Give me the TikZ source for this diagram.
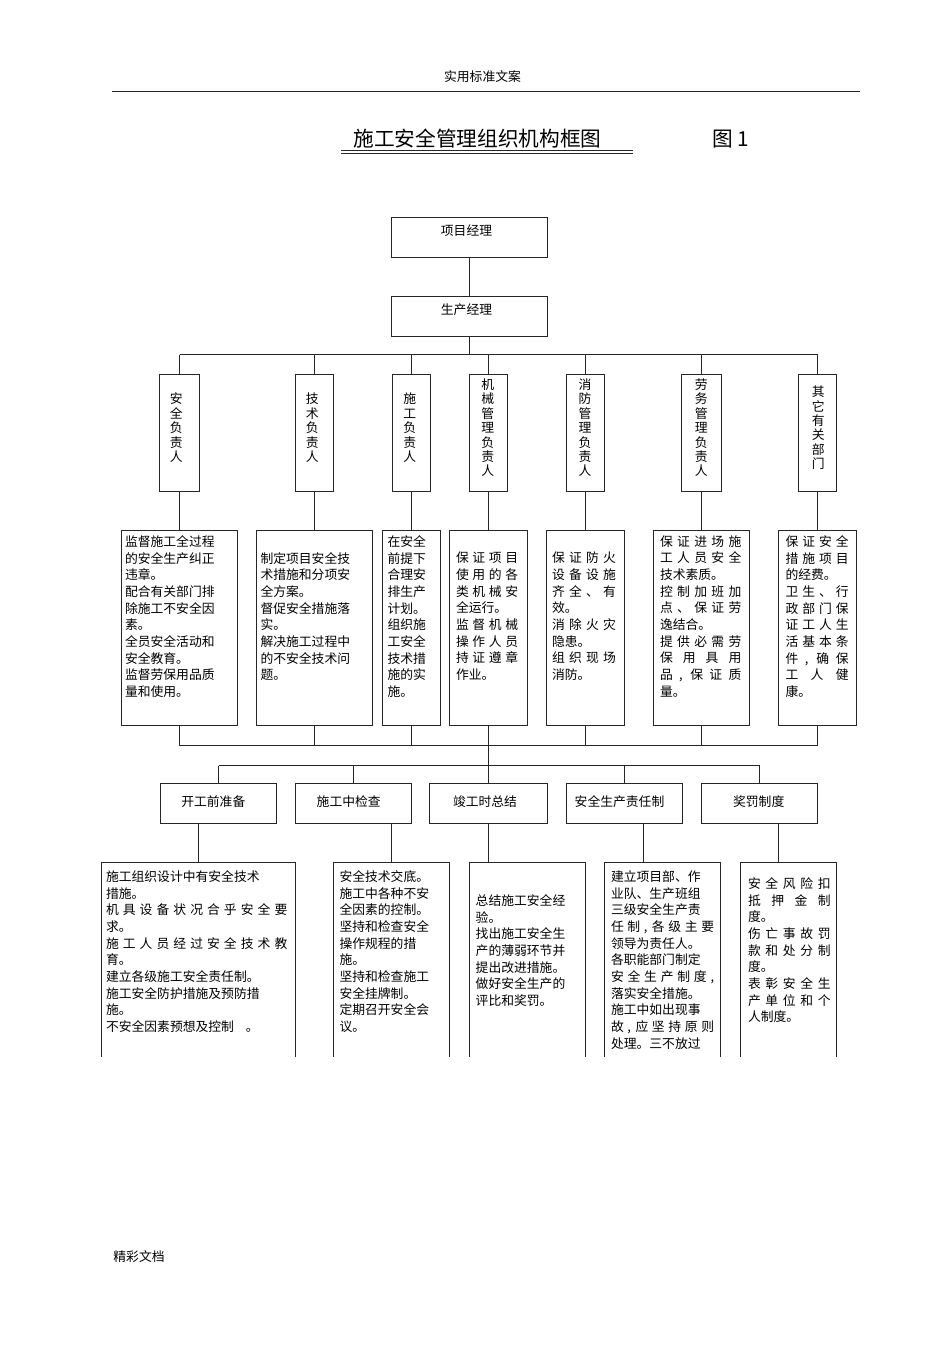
\documentclass[tikz,border=0pt]{standalone}
\usepackage{xcolor}
\usepackage{amsmath}
\usepackage{fontspec}
\usepackage{tikz}
\newfontfamily\cjk{Noto Sans CJK SC}
% one line spread over the whole width of its block
\newcommand{\spreadrow}[1]{\makebox[\linewidth][s]{\spaceskip=0.1pt plus 1fil #1}\\}

\begin{document}
\begin{tikzpicture}[x=0.75pt,y=-0.75pt,line width=0.75pt,color=black!85,
    main node/.style={rectangle,draw,inner sep=0pt,outer sep=0pt},
    wide node/.style={main node,minimum width=87pt,minimum height=30pt},
    role node/.style={main node,minimum width=28.5pt,minimum height=87.75pt},
    duty node/.style={main node,minimum height=146.25pt},
    rule node/.style={main node,minimum height=172.5pt},
    caption/.style={inner sep=0pt,text=black,font=\cjk\fontsize{9.6}{12.5}\selectfont},
    stack/.style={inner sep=0pt,align=center,text=black,font=\cjk\fontsize{9.6}{10.8}\selectfont},
    block/.style={inner sep=0pt,anchor=north west,align=left,text=black,font=\cjk\fontsize{9.6}{12.5}\selectfont}]
    \useasboundingbox (0,0) rectangle (950,1345);

    \node[caption] (header) at (482.5,76.5) {实用标准文案};
    \coordinate (ruleleft) at (112,91.5);
    \coordinate (ruleright) at (860,91.5);
    \draw (ruleleft) -- (ruleright);
    \node[caption,font=\cjk\fontsize{15.5}{18}\selectfont] (title) at (477.5,139) {施工安全管理组织机构框图};
    \node[caption,font=\cjk\fontsize{15.5}{18}\selectfont] (figno) at (730.5,139) {图\ 1};
    \coordinate (ulleft) at (341,150.5);
    \coordinate (ulright) at (632.7,150.5);
    \draw[line width=0.5pt] (ulleft) -- (ulright);
    \draw[line width=1pt] ([yshift=-2.25pt]ulleft) -- ([yshift=-2.25pt]ulright);
    \node[caption] (footer) at (139,1257) {精彩文档};

    % top of the chart
    \node[main node,minimum width=117pt,minimum height=30pt] (pm) at (469.5,237.5) {};
    \node[main node,minimum width=117pt,minimum height=30pt] (prod) at (469.5,316.5) {};
    \node[caption] (pmtext) at (466.5,231) {项目经理};
    \node[caption] (prodtext) at (466.5,310) {生产经理};

    \node[role node,minimum width=30pt] (r1) at (179.5,433) {};
    \node[role node] (r2) at (314.5,433) {};
    \node[role node] (r3) at (411.5,433) {};
    \node[role node] (r4) at (488.5,433) {};
    \node[role node] (r5) at (585.5,433) {};
    \node[role node,minimum width=30pt] (r6) at (701.5,433) {};
    \node[role node] (r7) at (817.5,433) {};
    \node[stack] (r1text) at (176.3,427.8) {安\\全\\负\\责\\人};
    \node[stack] (r2text) at (312.3,427.8) {技\\术\\负\\责\\人};
    \node[stack] (r3text) at (409.7,427.8) {施\\工\\负\\责\\人};
    \node[stack] (r4text) at (487.7,427.8) {机\\械\\管\\理\\负\\责\\人};
    \node[stack] (r5text) at (585,427.8) {消\\防\\管\\理\\负\\责\\人};
    \node[stack] (r6text) at (701.3,427.8) {劳\\务\\管\\理\\负\\责\\人};
    \node[stack] (r7text) at (818.3,427.8) {其\\它\\有\\关\\部\\门};

    \node[duty node,minimum width=87pt] (b1) at (179.5,628) {};
    \node[duty node,minimum width=87pt] (b2) at (314.5,628) {};
    \node[duty node,minimum width=43.5pt] (b3) at (411.5,628) {};
    \node[duty node,minimum width=58.5pt] (b4) at (488.5,628) {};
    \node[duty node,minimum width=58.5pt] (b5) at (585.5,628) {};
    \node[duty node,minimum width=72pt] (b6) at (701.5,628) {};
    \node[duty node,minimum width=58.5pt] (b7) at (817.5,628) {};

    \node[block,text width=67.2pt] (b1text) at (124.5,535) {监督施工全过程\\的安全生产纠正\\违章。\\配合有关部门排\\除施工不安全因\\素。\\全员安全活动和\\安全教育。\\监督劳保用品质\\量和使用。};
    \node[block,text width=67.2pt] (b2text) at (260,551.7) {制定项目安全技\\术措施和分项安\\全方案。\\督促安全措施落\\实。\\解决施工过程中\\的不安全技术问\\题。};
    \node[block,text width=29pt] (b3text) at (387,535) {在安全\\前提下\\合理安\\排生产\\计划。\\组织施\\工安全\\技术措\\施的实\\施。};
    \node[block,text width=46.7pt] (b4text) at (455.5,551.7) {\spreadrow{保 证 项 目}\spreadrow{使 用 的 各}\spreadrow{类 机 械 安}全运行。\\\spreadrow{监 督 机 械}\spreadrow{操 作 人 员}\spreadrow{持 证 遵 章}作业。};
    \node[block,text width=48pt] (b5text) at (551.5,551.7) {\spreadrow{保 证 防 火}\spreadrow{设 备 设 施}\spreadrow{齐 全 、 有}效。\\\spreadrow{消 除 火 灾}隐患。\\\spreadrow{组 织 现 场}消防。};
    \node[block,text width=61pt] (b6text) at (659.5,535) {\spreadrow{保 证 进 场 施}\spreadrow{工 人 员 安 全}技术素质。\\\spreadrow{控 制 加 班 加}\spreadrow{点 、 保 证 劳}逸结合。\\\spreadrow{提 供 必 需 劳}\spreadrow{保 用 具 用}\spreadrow{品 , 保 证 质}量。};
    \node[block,text width=47.3pt] (b7text) at (785,535) {\spreadrow{保 证 安 全}\spreadrow{措 施 项 目}的经费。\\\spreadrow{卫 生 、 行}\spreadrow{政 部 门 保}\spreadrow{证 工 人 生}\spreadrow{活 基 本 条}\spreadrow{件 , 确 保}\spreadrow{工 人 健}康。};

    \coordinate (topbus) at (469.5,354.5);
    \coordinate (lowbus) at (488.5,745.5);
    \coordinate (midbus) at (488.5,765.5);

    \node[wide node] (c1) at (218.5,803.5) {};
    \node[wide node] (c2) at (353.5,803.5) {};
    \node[wide node,minimum width=88.5pt] (c3) at (488.5,803.5) {};
    \node[wide node] (c4) at (624.5,803.5) {};
    \node[wide node] (c5) at (759.5,803.5) {};
    \node[caption] (c1text) at (213.3,801.5) {开工前准备};
    \node[caption] (c2text) at (348.7,801.5) {施工中检查};
    \node[caption] (c3text) at (485,801.5) {竣工时总结};
    \node[caption] (c4text) at (619.5,801.5) {安全生产责任制};
    \node[caption] (c5text) at (758.7,801.5) {奖罚制度};

    % page ends here, the lower boxes run off it
    \begin{scope}
    \clip (0,0) rectangle (950,1056.7);
    \node[rule node,minimum width=145.5pt] (d1) at (198.5,977.5) {};
    \node[rule node,minimum width=87pt] (d2) at (391.5,977.5) {};
    \node[rule node,minimum width=87pt] (d3) at (527.5,977.5) {};
    \node[rule node,minimum width=87pt] (d4) at (662.5,977.5) {};
    \node[rule node,minimum width=72pt] (d5) at (788.5,977.5) {};
    \end{scope}

    \node[block,text width=136pt] (d1text) at (105.5,870) {施工组织设计中有安全技术\\措施。\\\spreadrow{机 具 设 备 状 况 合 乎 安 全 要}求。\\\spreadrow{施 工 人 员 经 过 安 全 技 术 教}育。\\建立各级施工安全责任制。\\施工安全防护措施及预防措\\施。\\不安全因素预想及控制\hspace{9pt}。};
    \node[block,text width=67.2pt] (d2text) at (339,870) {安全技术交底。\\施工中各种不安\\全因素的控制。\\坚持和检查安全\\操作规程的措\\施。\\坚持和检查施工\\安全挂牌制。\\定期召开安全会\\议。};
    \node[block,text width=67.2pt] (d3text) at (475.2,894) {总结施工安全经\\验。\\找出施工安全生\\产的薄弱环节并\\提出改进措施。\\做好安全生产的\\评比和奖罚。};
    \node[block,text width=77.3pt] (d4text) at (610.5,870) {建立项目部、作\\业队、生产班组\\三级安全生产责\\\spreadrow{任 制 , 各 级 主 要}领导为责任人。\\各职能部门制定\\\spreadrow{安 全 生 产 制 度 ,}落实安全措施。\\施工中如出现事\\\spreadrow{故 , 应 坚 持 原 则}处理。三不放过};
    \node[block,text width=62pt] (d5text) at (747.5,877) {\spreadrow{安 全 风 险 扣}\spreadrow{抵 押 金 制}度。\\\spreadrow{伤 亡 事 故 罚}\spreadrow{款 和 处 分 制}度。\\\spreadrow{表 彰 安 全 生}\spreadrow{产 单 位 和 个}人制度。};

    \path
    (pm) edge (prod)
    (prod) edge (topbus)
    (r1.north |- topbus) edge (r7.north |- topbus)
    (r1.north |- topbus) edge (r1)
    (r2.north |- topbus) edge (r2)
    (r3.north |- topbus) edge (r3)
    (r4.north |- topbus) edge (r4)
    (r5.north |- topbus) edge (r5)
    (r6.north |- topbus) edge (r6)
    (r7.north |- topbus) edge (r7)
    (r1) edge (b1)
    (r2) edge (b2)
    (r3) edge (b3)
    (r4) edge (b4)
    (r5) edge (b5)
    (r6) edge (b6)
    (r7) edge (b7)
    (b1) edge (b1.south |- lowbus)
    (b2) edge (b2.south |- lowbus)
    (b3) edge (b3.south |- lowbus)
    (b4) edge (b4.south |- lowbus)
    (b5) edge (b5.south |- lowbus)
    (b6) edge (b6.south |- lowbus)
    (b7) edge (b7.south |- lowbus)
    (b1.south |- lowbus) edge (b7.south |- lowbus)
    (lowbus) edge (midbus)
    (c1.north |- midbus) edge (c5.north |- midbus)
    (c1.north |- midbus) edge (c1)
    (c2.north |- midbus) edge (c2)
    (c3.north |- midbus) edge (c3)
    (c4.north |- midbus) edge (c4)
    (c5.north |- midbus) edge (c5)
    (d1.north |- c1.south) edge (d1)
    (d2.north |- c2.south) edge (d2)
    (c3.south) edge (c3.south |- d3.north)
    ([xshift=14.25pt]c4.south) edge ([xshift=14.25pt]c4.south |- d4.north)
    ([xshift=14.25pt]c5.south) edge ([xshift=14.25pt]c5.south |- d5.north);
\end{tikzpicture}
\end{document}
